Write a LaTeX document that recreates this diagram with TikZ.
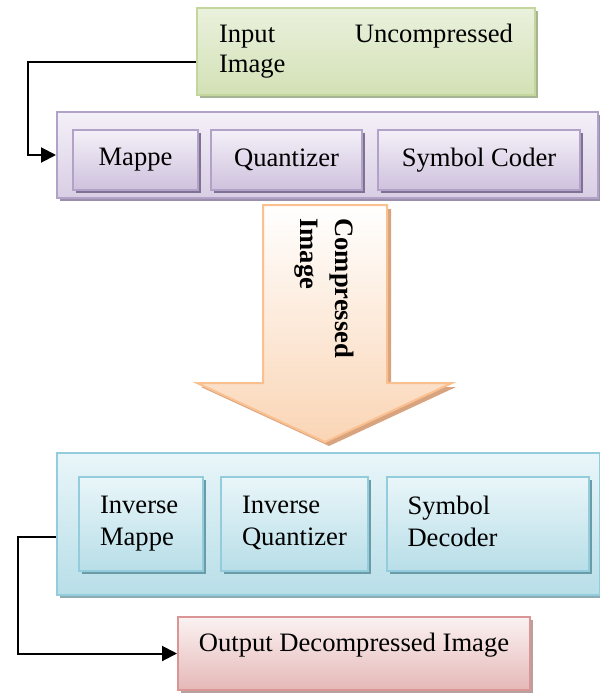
\documentclass[tikz,border=0pt]{standalone}
\usepackage{fontspec}
\setmainfont{Liberation Serif}
\usetikzlibrary{shadows,arrows.meta}

\definecolor{grtop}{HTML}{EAF1DD}
\definecolor{grbot}{HTML}{D3E1B5}
\definecolor{gredge}{HTML}{C3D69B}
\definecolor{grshad}{HTML}{A7B593}
\definecolor{putop}{HTML}{F4F0F8}
\definecolor{pubot}{HTML}{D8CEE4}
\definecolor{puedge}{HTML}{B3A2C7}
\definecolor{pushad}{HTML}{9A8FAA}
\definecolor{puin}{HTML}{CEC1DD}
\definecolor{puinshad}{HTML}{7F7193}
\definecolor{bltop}{HTML}{E9F6F9}
\definecolor{blbot}{HTML}{B8DEE8}
\definecolor{bledge}{HTML}{93CDDD}
\definecolor{blshad}{HTML}{8AACB2}
\definecolor{blinshad}{HTML}{6A9CA8}
\definecolor{rdtop}{HTML}{FBF2F2}
\definecolor{rdbot}{HTML}{E5B8B7}
\definecolor{rdedge}{HTML}{D99694}
\definecolor{rdshad}{HTML}{B8A0A0}
\definecolor{arbot}{HTML}{FAD5B5}
\definecolor{aredge}{HTML}{FAC090}
\definecolor{arshad}{HTML}{D8A37F}

\tikzset{
  panel/.style={rectangle, line width=1pt, inner sep=0pt},
  inbox/.style={panel, draw=gredge, top color=grtop, bottom color=grbot,
    drop shadow={shadow xshift=1.5pt, shadow yshift=-1.5pt, fill=grshad, opacity=1},
    text width=147pt, align=left},
  coderbox/.style={panel, draw=puedge, top color=putop, bottom color=pubot,
    drop shadow={shadow xshift=1.5pt, shadow yshift=-1.5pt, fill=pushad, opacity=1}},
  stage/.style={panel, draw=puedge, top color=putop, bottom color=puin,
    minimum height=30pt,
    drop shadow={shadow xshift=1.5pt, shadow yshift=-1.5pt, fill=puinshad, opacity=1}},
  decoderbox/.style={panel, draw=bledge, top color=bltop, bottom color=blbot,
    drop shadow={shadow xshift=1.5pt, shadow yshift=-1.5pt, fill=blshad, opacity=1}},
  invstage/.style={panel, draw=bledge, top color=bltop, bottom color=blbot,
    minimum height=47pt, inner xsep=10.5pt, align=left,
    font=\fontsize{13.3}{16}\selectfont,
    drop shadow={shadow xshift=1.5pt, shadow yshift=-1.5pt, fill=blinshad, opacity=1}},
  outbox/.style={panel, draw=rdedge, top color=rdtop, bottom color=rdbot,
    text height=9pt, text depth=11pt,
    drop shadow={shadow xshift=1.5pt, shadow yshift=-1.5pt, fill=rdshad, opacity=1}},
  link/.style={line width=1pt, -{Triangle[length=7.5pt,width=7.5pt]}}
}

\begin{document}
\begin{tikzpicture}[x=0.5pt,y=-0.5pt, font=\fontsize{13.3}{15}\selectfont]
  \useasboundingbox (0,0) rectangle (600,697);

  % coding side
  \node[inbox, minimum width=169pt, minimum height=43.5pt] (input) at (366,51.5)
    {Input\hfill Uncompressed\\Image};
  \node[coderbox, minimum width=270.5pt, minimum height=43pt] (coder) at (327.5,155) {};
  \node[stage, minimum width=62.5pt] (mapper) at (135.5,160) {Mappe};
  \node[stage, minimum width=75.5pt] (quant) at (286.5,160) {Quantizer};
  \node[stage, minimum width=101pt] (symcoder) at (479,160) {Symbol Coder};

  % big arrow
  \fill[arshad] (267,209) -- (391,209) -- (391,387) -- (456,387) -- (329,446)
    -- (201,387) -- (267,387) -- cycle;
  \shadedraw[draw=aredge, line width=1pt, top color=white, bottom color=arbot]
    (263,205) -- (387,205) -- (387,383) -- (452,383) -- (325,442)
    -- (197,383) -- (263,383) -- cycle;
  \node[rotate=-90, anchor=north west, inner sep=0pt, align=left,
    font=\fontsize{13.3}{17.5}\selectfont\bfseries] (compressed) at (354,218)
    {Compressed\\Image};

  % decoding side
  \node[decoderbox, minimum width=271.5pt, minimum height=71pt] (decoder) at (328.5,524) {};
  \node[invstage, text width=41pt] (invmapper) at (141,524) {Inverse\\Mappe};
  \node[invstage, text width=52.5pt] (invquant) at (294.5,524) {Inverse\\Quantizer\vphantom{p}};
  \node[invstage, text width=80pt] (symdecoder) at (487.5,524) {Symbol\\Decoder\vphantom{p}};
  \node[outbox, minimum width=176pt, minimum height=36.5pt] (output) at (354,653.5)
    {Output Decompressed Image};

  % connectors
  \coordinate (bendin) at (28,62);
  \coordinate (bendout) at (18,537);
  \draw[link] (input.west |- bendin) -- (bendin) |- (coder.west);
  \draw[link] (decoder.west |- bendout) -- (bendout) |- (output.west);
\end{tikzpicture}
\end{document}
